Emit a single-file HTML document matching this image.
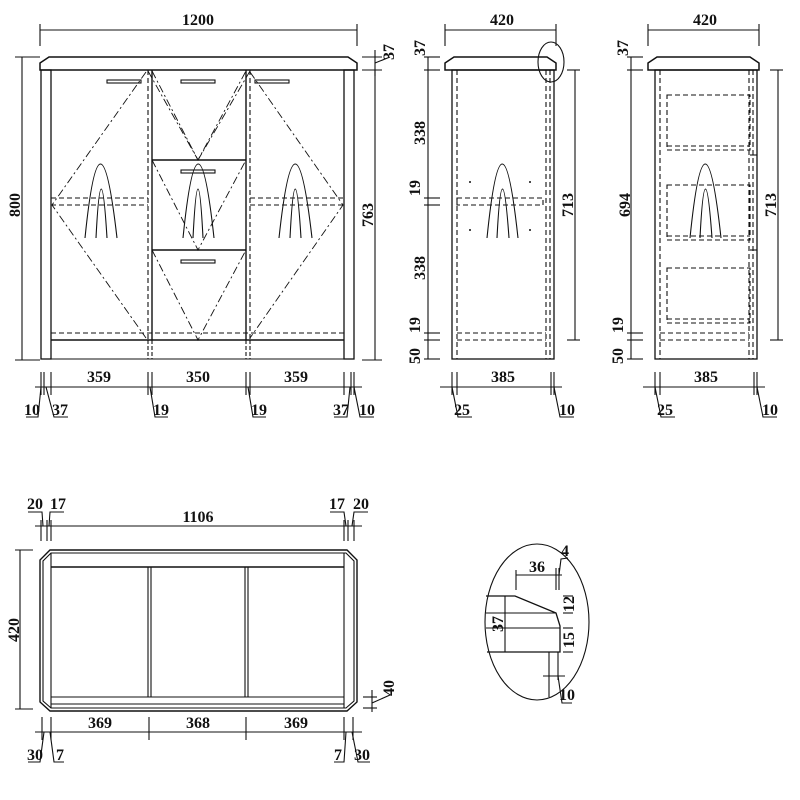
<!DOCTYPE html>
<html><head><meta charset="utf-8"><style>
html,body{margin:0;padding:0;background:#fff}
svg{display:block}
text{font-family:"Liberation Serif",serif;font-weight:bold;font-size:16px;fill:#111}
</style></head><body>
<svg width="800" height="800" viewBox="0 0 800 800" xmlns="http://www.w3.org/2000/svg">
<g stroke="#111" stroke-width="1.1" fill="none">
<!-- ===== FRONT VIEW ===== -->
<line x1="40" y1="30" x2="357" y2="30"/><line x1="40" y1="24" x2="40" y2="46"/><line x1="357" y1="24" x2="357" y2="46"/>
<polygon points="40,63 49,57 348,57 357,63 357,70 40,70" stroke-width="1.5"/>
<rect x="41" y="70" width="10" height="289" stroke-width="1.3"/>
<rect x="344" y="70" width="10" height="289" stroke-width="1.3"/>
<line x1="41" y1="359" x2="354" y2="359"/>
<line x1="51" y1="340" x2="344" y2="340" stroke-width="1.4"/>
<line x1="51" y1="333" x2="344" y2="333" stroke-dasharray="5,3"/>
<line x1="148" y1="70" x2="148" y2="340" stroke-dasharray="5,3"/><line x1="152" y1="70" x2="152" y2="340" stroke-width="1.4"/>
<line x1="246" y1="70" x2="246" y2="340" stroke-width="1.4"/><line x1="250" y1="70" x2="250" y2="340" stroke-dasharray="5,3"/>
<line x1="148" y1="340" x2="148" y2="359" stroke-dasharray="4,2"/><line x1="152" y1="340" x2="152" y2="359" stroke-dasharray="4,2"/>
<line x1="246" y1="340" x2="246" y2="359" stroke-dasharray="4,2"/><line x1="250" y1="340" x2="250" y2="359" stroke-dasharray="4,2"/>
<line x1="152" y1="160" x2="246" y2="160" stroke-width="1.4"/><line x1="152" y1="250" x2="246" y2="250" stroke-width="1.4"/>
<rect x="107" y="80" width="34" height="3"/><rect x="181" y="80" width="34" height="3"/><rect x="255" y="80" width="34" height="3"/>
<rect x="181" y="170" width="34" height="3"/><rect x="181" y="260" width="34" height="3"/>
<line x1="51" y1="198" x2="148" y2="198" stroke-dasharray="5,3"/><line x1="51" y1="205" x2="148" y2="205" stroke-dasharray="5,3"/>
<line x1="250" y1="198" x2="344" y2="198" stroke-dasharray="5,3"/><line x1="250" y1="205" x2="344" y2="205" stroke-dasharray="5,3"/>
<g stroke-dasharray="8,3,2,3" stroke-width="0.9">
<polyline points="146,72 52,205 146,338"/><polyline points="250,72 343,205 250,338"/>
<polyline points="152,71 198,160 246,71"/><polyline points="152,160 198,250 246,160"/><polyline points="152,250 198,340 246,250"/>
<polyline points="148,71 198,160"/><polyline points="250,71 198,160"/>
</g>
<path d="M85,238 Q100,90 117,238 M96,238 Q101,140 107,238"/>
<path d="M183,238 Q198,90 214,238 M193,238 Q198,140 203,238"/>
<path d="M279,238 Q295,90 312,238 M290,238 Q295,140 301,238"/>
<!-- front dims -->
<line x1="22" y1="57" x2="22" y2="360"/><line x1="15" y1="57" x2="40" y2="57"/><line x1="15" y1="360" x2="40" y2="360"/>
<line x1="375" y1="70" x2="375" y2="360"/><line x1="362" y1="70" x2="382" y2="70"/><line x1="362" y1="360" x2="382" y2="360"/>
<line x1="362" y1="57" x2="382" y2="57"/><line x1="375" y1="50" x2="375" y2="76"/><line x1="375" y1="63" x2="390" y2="57"/>
<line x1="35" y1="387" x2="362" y2="387"/>
<line x1="41" y1="372" x2="41" y2="395"/><line x1="44" y1="372" x2="44" y2="395"/><line x1="51" y1="372" x2="51" y2="395"/>
<line x1="148" y1="372" x2="148" y2="395"/><line x1="152" y1="372" x2="152" y2="395"/>
<line x1="246" y1="372" x2="246" y2="395"/><line x1="250" y1="372" x2="250" y2="395"/>
<line x1="344" y1="372" x2="344" y2="395"/><line x1="351" y1="372" x2="351" y2="395"/><line x1="354" y1="372" x2="354" y2="395"/>
<polyline points="26,417 38,417 41,387"/><polyline points="68,417 54,417 46,387"/>
<polyline points="168,417 155,417 150,387"/><polyline points="266,417 253,417 248,387"/>
<polyline points="334,417 347,417 350,387"/><polyline points="374,417 360,417 354,387"/>
<!-- ===== SIDE VIEW 1 ===== -->
<line x1="445" y1="30" x2="556" y2="30"/><line x1="445" y1="24" x2="445" y2="46"/><line x1="556" y1="24" x2="556" y2="46"/>
<polygon points="445,63 454,57 547,57 556,63 556,70 445,70" stroke-width="1.5"/>
<rect x="452" y="70" width="102" height="289" stroke-width="1.3"/>
<g stroke-dasharray="5,3">
<line x1="457" y1="70" x2="457" y2="359"/><line x1="546" y1="70" x2="546" y2="359"/><line x1="550" y1="70" x2="550" y2="359"/>
<rect x="457" y="198" width="86" height="7"/>
<line x1="457" y1="333" x2="546" y2="333"/><line x1="457" y1="340" x2="546" y2="340"/>
</g>
<path d="M487,238 Q502,90 518,238 M497,238 Q502,140 509,238"/>
<g fill="#111" stroke="none"><circle cx="470" cy="182" r="1"/><circle cx="530" cy="182" r="1"/><circle cx="470" cy="230" r="1"/><circle cx="530" cy="230" r="1"/></g>
<ellipse cx="551" cy="62" rx="13" ry="20"/>
<line x1="428" y1="57" x2="428" y2="359"/>
<line x1="424" y1="57" x2="440" y2="57"/><line x1="424" y1="70" x2="440" y2="70"/><line x1="424" y1="198" x2="440" y2="198"/><line x1="424" y1="205" x2="440" y2="205"/>
<line x1="424" y1="333" x2="440" y2="333"/><line x1="424" y1="340" x2="440" y2="340"/><line x1="424" y1="359" x2="440" y2="359"/>
<line x1="567" y1="70" x2="580" y2="70"/><line x1="567" y1="340" x2="580" y2="340"/><line x1="575" y1="70" x2="575" y2="340"/>
<line x1="440" y1="387" x2="562" y2="387"/><line x1="452" y1="372" x2="452" y2="395"/><line x1="457" y1="372" x2="457" y2="395"/><line x1="551" y1="372" x2="551" y2="395"/><line x1="554" y1="372" x2="554" y2="395"/>
<polyline points="472,417 458,417 452,387"/><polyline points="574,417 560,417 554,387"/>
<!-- ===== SIDE VIEW 2 ===== -->
<line x1="648" y1="30" x2="759" y2="30"/><line x1="648" y1="24" x2="648" y2="46"/><line x1="759" y1="24" x2="759" y2="46"/>
<polygon points="648,63 657,57 750,57 759,63 759,70 648,70" stroke-width="1.5"/>
<rect x="655" y="70" width="102" height="289" stroke-width="1.3"/>
<g stroke-dasharray="5,3">
<line x1="660" y1="70" x2="660" y2="359"/><line x1="749" y1="70" x2="749" y2="359"/><line x1="753" y1="70" x2="753" y2="359"/>
<rect x="667" y="95" width="83" height="55"/><line x1="667" y1="146" x2="750" y2="146"/>
<rect x="667" y="185" width="83" height="55"/><line x1="667" y1="236" x2="750" y2="236"/>
<rect x="667" y="268" width="83" height="55"/><line x1="667" y1="319" x2="750" y2="319"/>
<line x1="660" y1="333" x2="749" y2="333"/><line x1="660" y1="340" x2="749" y2="340"/>
</g>
<line x1="750" y1="155" x2="757" y2="155"/><line x1="750" y1="250" x2="757" y2="250"/>
<path d="M690,238 Q705,90 721,238 M700,238 Q705,140 712,238"/>
<line x1="631" y1="57" x2="631" y2="359"/>
<line x1="627" y1="57" x2="643" y2="57"/><line x1="627" y1="70" x2="643" y2="70"/>
<line x1="627" y1="333" x2="643" y2="333"/><line x1="627" y1="340" x2="643" y2="340"/><line x1="627" y1="359" x2="643" y2="359"/>
<line x1="770" y1="70" x2="783" y2="70"/><line x1="770" y1="340" x2="783" y2="340"/><line x1="778" y1="70" x2="778" y2="340"/>
<line x1="643" y1="387" x2="765" y2="387"/><line x1="655" y1="372" x2="655" y2="395"/><line x1="660" y1="372" x2="660" y2="395"/><line x1="754" y1="372" x2="754" y2="395"/><line x1="757" y1="372" x2="757" y2="395"/>
<polyline points="675,417 661,417 655,387"/><polyline points="777,417 763,417 757,387"/>
<!-- ===== PLAN VIEW ===== -->
<line x1="35" y1="526" x2="362" y2="526"/>
<line x1="41" y1="520" x2="41" y2="541"/><line x1="47" y1="520" x2="47" y2="541"/><line x1="51" y1="520" x2="51" y2="541"/>
<line x1="344" y1="520" x2="344" y2="541"/><line x1="348" y1="520" x2="348" y2="541"/><line x1="354" y1="520" x2="354" y2="541"/>
<polyline points="28,512 42,512 43,526"/><polyline points="64,512 50,512 49,526"/>
<polyline points="330,512 344,512 346,526"/><polyline points="368,512 354,512 352,526"/>
<polygon points="50,550 347,550 357,560 357,702 347,711 50,711 40,702 40,560" stroke-width="1.4"/>
<polygon points="51,553 346,553 354,561 354,701 346,708 51,708 43,701 43,561"/>
<line x1="51" y1="553" x2="51" y2="708"/><line x1="344" y1="553" x2="344" y2="708"/>
<line x1="51" y1="567" x2="344" y2="567" stroke-width="1.4"/>
<line x1="148" y1="567" x2="148" y2="697"/><line x1="151" y1="567" x2="151" y2="697"/>
<line x1="245" y1="567" x2="245" y2="697"/><line x1="248" y1="567" x2="248" y2="697"/>
<line x1="51" y1="697" x2="344" y2="697"/><line x1="51" y1="704" x2="344" y2="704"/>
<line x1="20" y1="550" x2="20" y2="709"/><line x1="15" y1="550" x2="33" y2="550"/><line x1="15" y1="709" x2="33" y2="709"/>
<line x1="363" y1="697" x2="377" y2="697"/><line x1="363" y1="708" x2="377" y2="708"/><line x1="372" y1="690" x2="372" y2="712"/><line x1="372" y1="703" x2="390" y2="695"/>
<line x1="35" y1="732" x2="362" y2="732"/>
<line x1="42" y1="717" x2="42" y2="740"/><line x1="51" y1="717" x2="51" y2="740"/><line x1="149" y1="717" x2="149" y2="740"/><line x1="246" y1="717" x2="246" y2="740"/>
<line x1="344" y1="717" x2="344" y2="740"/><line x1="353" y1="717" x2="353" y2="740"/>
<polyline points="28,762 40,762 44,732"/><polyline points="64,762 54,762 50,732"/>
<polyline points="334,762 344,762 346,732"/><polyline points="370,762 358,762 352,732"/>
<!-- ===== DETAIL ===== -->
<ellipse cx="537" cy="622" rx="52" ry="78"/>
<polyline points="486,596 515,596 556,613 560,626 560,652 487,652" stroke-width="1.3"/>
<line x1="486" y1="613" x2="556" y2="613"/><line x1="486" y1="628" x2="560" y2="628"/>
<line x1="505" y1="596" x2="505" y2="652"/>
<line x1="549" y1="652" x2="549" y2="697"/><line x1="558" y1="652" x2="558" y2="680"/>
<line x1="516" y1="575" x2="562" y2="575"/><line x1="516" y1="570" x2="516" y2="590"/><line x1="556" y1="568" x2="556" y2="590"/><line x1="559" y1="568" x2="559" y2="590"/>
<polyline points="559,575 561,559 568,558"/>
<line x1="563" y1="596" x2="573" y2="596"/><line x1="563" y1="613" x2="573" y2="613"/><line x1="563" y1="628" x2="573" y2="628"/><line x1="563" y1="652" x2="573" y2="652"/>
<line x1="543" y1="676" x2="565" y2="676"/><polyline points="558,676 562,703 572,703"/>
</g>
<!-- TEXT -->
<text x="198" y="25" text-anchor="middle">1200</text>
<text transform="translate(20,205) rotate(-90)" text-anchor="middle">800</text>
<text transform="translate(373,215) rotate(-90)" text-anchor="middle">763</text>
<text transform="translate(394,52) rotate(-90)" text-anchor="middle">37</text>
<text x="99" y="382" text-anchor="middle">359</text><text x="198" y="382" text-anchor="middle">350</text><text x="296" y="382" text-anchor="middle">359</text>
<text x="32" y="415" text-anchor="middle">10</text><text x="60" y="415" text-anchor="middle">37</text>
<text x="161" y="415" text-anchor="middle">19</text><text x="259" y="415" text-anchor="middle">19</text>
<text x="341" y="415" text-anchor="middle">37</text><text x="367" y="415" text-anchor="middle">10</text>
<text x="502" y="25" text-anchor="middle">420</text>
<text transform="translate(425,48) rotate(-90)" text-anchor="middle">37</text>
<text transform="translate(425,133) rotate(-90)" text-anchor="middle">338</text>
<text transform="translate(420,188) rotate(-90)" text-anchor="middle">19</text>
<text transform="translate(425,268) rotate(-90)" text-anchor="middle">338</text>
<text transform="translate(420,325) rotate(-90)" text-anchor="middle">19</text>
<text transform="translate(420,356) rotate(-90)" text-anchor="middle">50</text>
<text transform="translate(573,205) rotate(-90)" text-anchor="middle">713</text>
<text x="503" y="382" text-anchor="middle">385</text><text x="462" y="415" text-anchor="middle">25</text><text x="567" y="415" text-anchor="middle">10</text>
<text x="705" y="25" text-anchor="middle">420</text>
<text transform="translate(628,48) rotate(-90)" text-anchor="middle">37</text>
<text transform="translate(630,205) rotate(-90)" text-anchor="middle">694</text>
<text transform="translate(623,325) rotate(-90)" text-anchor="middle">19</text>
<text transform="translate(623,356) rotate(-90)" text-anchor="middle">50</text>
<text transform="translate(776,205) rotate(-90)" text-anchor="middle">713</text>
<text x="706" y="382" text-anchor="middle">385</text><text x="665" y="415" text-anchor="middle">25</text><text x="770" y="415" text-anchor="middle">10</text>
<text x="35" y="509" text-anchor="middle">20</text><text x="58" y="509" text-anchor="middle">17</text>
<text x="198" y="522" text-anchor="middle">1106</text>
<text x="337" y="509" text-anchor="middle">17</text><text x="361" y="509" text-anchor="middle">20</text>
<text transform="translate(19,630) rotate(-90)" text-anchor="middle">420</text>
<text transform="translate(394,688) rotate(-90)" text-anchor="middle">40</text>
<text x="100" y="728" text-anchor="middle">369</text><text x="198" y="728" text-anchor="middle">368</text><text x="296" y="728" text-anchor="middle">369</text>
<text x="35" y="760" text-anchor="middle">30</text><text x="60" y="760" text-anchor="middle">7</text>
<text x="338" y="760" text-anchor="middle">7</text><text x="362" y="760" text-anchor="middle">30</text>
<text x="537" y="572" text-anchor="middle">36</text>
<text x="565" y="556" text-anchor="middle">4</text>
<text transform="translate(503,624) rotate(-90)" text-anchor="middle">37</text>
<text transform="translate(574,604) rotate(-90)" text-anchor="middle">12</text>
<text transform="translate(574,640) rotate(-90)" text-anchor="middle">15</text>
<text x="567" y="700" text-anchor="middle">10</text>
</svg>
</body></html>
